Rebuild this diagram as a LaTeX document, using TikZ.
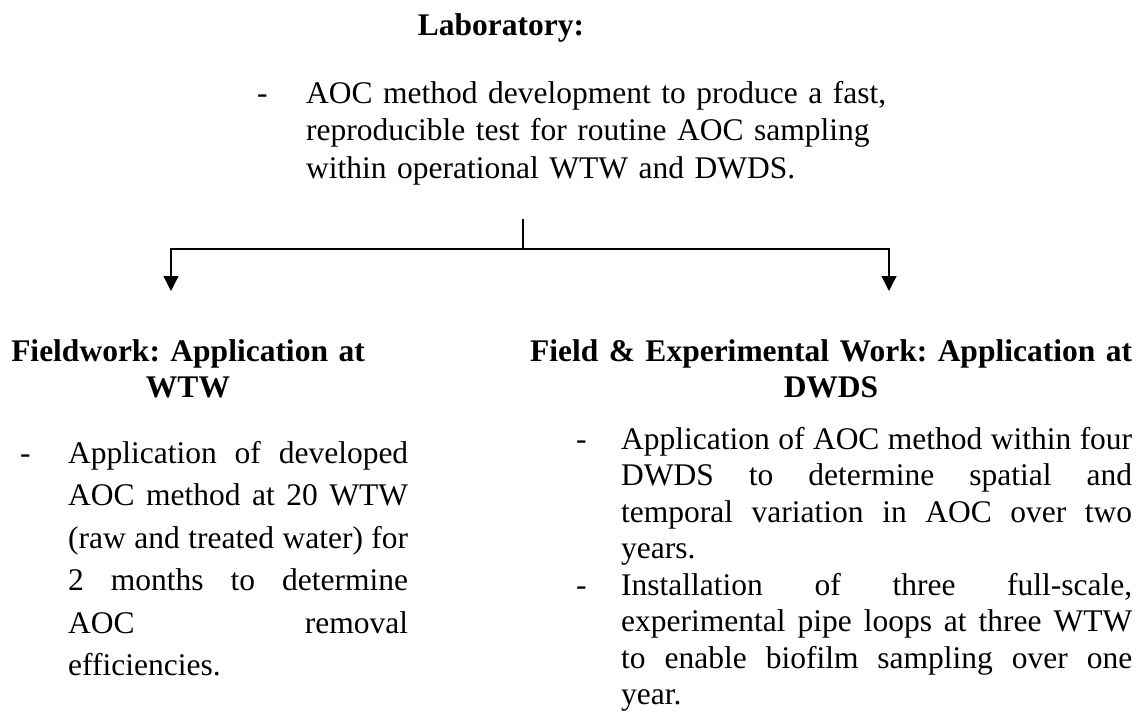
\documentclass[tikz,border=0pt]{standalone}
\usepackage{fontspec}
\setmainfont{Liberation Serif}
\usepackage{tikz}
\usetikzlibrary{arrows.meta, positioning}
\frenchspacing
\tolerance=10000
\hbadness=10000
\hyphenpenalty=10000
\exhyphenpenalty=10000
\tikzset{
    titolo/.style={inner sep=0pt, text width=700pt, align=center, font=\fontsize{31.5}{36}\selectfont\bfseries},
    testo/.style={inner sep=0pt, align=justify, font=\fontsize{31.5}{36.5}\selectfont},
    trattino/.style={inner sep=0pt, font=\fontsize{31.5}{36.5}\selectfont},
    arrow/.style={-{Triangle[length=15pt,width=15pt]}, draw=black, line width=1.2pt},
    line/.style={draw=black, line width=1.2pt}
}

\begin{document}
\begin{tikzpicture}[x=1pt, y=-1pt]

        \useasboundingbox (0,0) rectangle (1142,713);

        % -----------------------------------------------------------------
        % LABORATORIO
        % -----------------------------------------------------------------
        \node (lab) [titolo, anchor=base] at (501,35) {Laboratory:};
        \node (lab_dash) [trattino, anchor=base west] at (257,103) {-};
        \node (lab_txt) [testo, anchor=base west, text width=580pt, align=left, font=\fontsize{31.5}{37.5}\selectfont] at (306,103)
            {AOC method development to produce a fast,\\ reproducible test for routine AOC sampling\\ within operational WTW and DWDS.};

        % Smistamento verso i due rami
        \coordinate (lab_out) at (523,219);
        \coordinate (bus) at (523,249);
        \coordinate (in_wtw) at (171,291);
        \coordinate (in_dwds) at (889,291);
        \draw[line] (lab_out) -- (bus);
        \draw[arrow] (bus) -| (in_wtw);
        \draw[arrow] (bus) -| (in_dwds);

        % =================================================================
        % RAMO WTW
        % =================================================================
        \node (wtw_head) [titolo, text width=400pt, anchor=base] at (188,361) {Fieldwork: Application at\\ WTW};
        \node (wtw_dash) [trattino, anchor=base west] at (20,463) {-};
        \node (wtw_txt) [testo, anchor=base west, text width=340pt, font=\fontsize{31.5}{42.5}\selectfont] at (68,463)
            {Application of developed\linebreak
             AOC method at 20 WTW\linebreak
             (raw and treated water) for\linebreak
             2 months to determine\linebreak
             AOC removal\linebreak
             efficiencies.};

        % =================================================================
        % RAMO DWDS
        % =================================================================
        \node (dwds_head) [titolo, anchor=base] at (831,361) {Field \& Experimental Work: Application at\\ DWDS};

        % Primo punto
        \node (dwds_dash1) [trattino, anchor=base west] at (576,449) {-};
        \node (dwds_txt1) [testo, anchor=base west, text width=511pt] at (621,449)
            {Application of AOC method within four\linebreak
             DWDS to determine spatial and\linebreak
             temporal variation in AOC over two\linebreak
             years.};

        % Secondo punto
        \node (dwds_dash2) [trattino, anchor=base west] at (576,595) {-};
        \node (dwds_txt2) [testo, anchor=base west, text width=511pt] at (621,595)
            {Installation of three full-scale,\linebreak
             experimental pipe loops at three WTW\linebreak
             to enable biofilm sampling over one\linebreak
             year.};

\end{tikzpicture}
\end{document}
